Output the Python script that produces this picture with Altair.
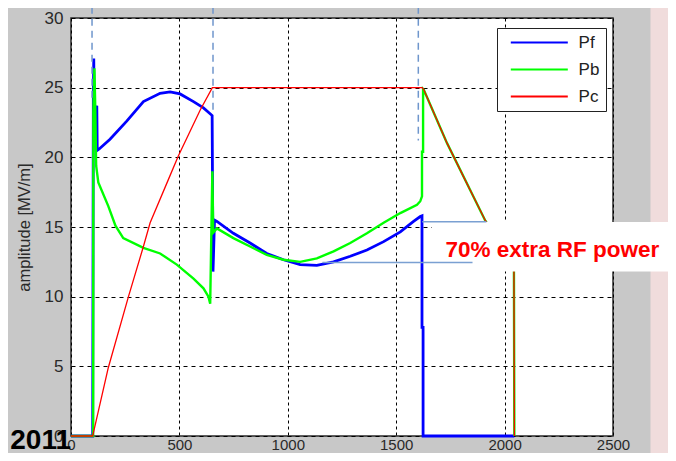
import altair as alt
import pandas as pd

# ---------------- data ----------------
series_names = ["Pf", "Pb", "Pc"]
series_colors = ["#0000ff", "#00ff00", "#ff0000"]

pf_t = [0, 100, 103, 105, 107, 119, 121, 130, 180, 257, 334, 411, 457, 503, 565, 611, 651,
        655, 662, 673, 749, 826, 903, 980, 1057, 1134, 1211, 1288, 1365, 1442, 1519, 1580,
        1611, 1619, 1619, 1624, 1624, 2045]
pf_v = [0, 0, 24.5, 27.1, 23.3, 23.7, 20.5, 20.6, 21.3, 22.6, 24.0, 24.6, 24.7, 24.55, 24.0,
        23.55, 23.0, 11.8, 15.5, 15.4, 14.55, 13.85, 13.1, 12.65, 12.3, 12.25, 12.5, 12.9,
        13.35, 13.95, 14.65, 15.4, 15.75, 15.8, 7.8, 7.8, 0, 0]

pb_t = [0, 102, 103, 108, 112, 116, 126, 172, 205, 241, 334, 411, 488, 565, 611, 634, 642,
        652, 656, 673, 749, 826, 903, 980, 1057, 1134, 1211, 1288, 1365, 1442, 1519, 1596,
        1611, 1619, 1619, 1624, 1624, 1627, 1735, 1811, 1911, 2043, 2045]
pb_v = [0, 0, 23.2, 26.4, 23.5, 19.4, 18.2, 16.5, 15.1, 14.2, 13.5, 13.1, 12.3, 11.3, 10.6,
        10.0, 9.5, 19.0, 14.6, 14.9, 14.2, 13.6, 13.0, 12.65, 12.5, 12.75, 13.25, 13.85,
        14.55, 15.3, 16.0, 16.6, 16.85, 17.2, 20.4, 20.4, 24.9, 24.85, 21.0, 18.6, 15.45,
        12.2, 0]

pc_t = [0, 100, 103, 172, 265, 334, 365, 449, 495, 596, 652, 1620, 1627, 1735, 1811, 1911,
        2043, 2045]
pc_v = [0, 0, 0.2, 4.9, 10.0, 13.6, 15.3, 18.4, 20.1, 23.4, 25.0, 25.0, 24.87, 21.0, 18.6,
        15.47, 12.2, 0]

# annotation guides (dashed verticals, level lines)
guide_x = [97, 655, 1602]
guide_top = [30.8, 30.8, 30.8]
guide_bottom = [24.2, 23.1, 21.2]
level_x = [1620, 1160]
level_x2 = [1916, 1852]
level_y = [15.37, 12.45]

# callout box and texts
box_x = [1665]
box_x2 = [2800]
box_y = [15.36]
box_y2 = [11.8]
note_text = ["70% extra RF power"]
note_x = [1727]
note_y = [12.85]
year_text = ["2011"]
year_x = [-280]
year_y = [-0.93]

# decorative strip at right of figure
strip_x = [2673]
strip_x2 = [2800]
strip_y = [-3]
strip_y2 = [33]

x_ticks = [0, 500, 1000, 1500, 2000, 2500]
y_ticks = [0, 5, 10, 15, 20, 25, 30]

# ---------------- chart ----------------
FONT = "Liberation Sans"

x_scale = alt.Scale(domain=[0, 2500], nice=False, zero=False)
y_scale = alt.Scale(domain=[0, 30], nice=False, zero=False)
color_scale = alt.Scale(domain=series_names, range=series_colors)

x_axis = alt.Axis(values=x_ticks, format="d", title=None, grid=True, gridColor="#000000",
                  gridDash=[3, 3], gridWidth=1, gridOpacity=1, ticks=False, tickSize=0,
                  domain=False, labelFont=FONT, labelFontSize=15, labelColor="#2a2a2a",
                  labelPadding=1, labelFlush=False, labelOverlap=False)
y_axis = alt.Axis(values=y_ticks, format="d", title="amplitude [MV/m]", grid=True,
                  gridColor="#000000", gridDash=[4, 4], gridWidth=1, gridOpacity=1,
                  ticks=False, tickSize=0, domain=False, labelFont=FONT, labelFontSize=17,
                  labelColor="#2a2a2a", labelPadding=8, labelOverlap=False,
                  titleFont=FONT, titleFontSize=16.5, titleFontWeight="normal",
                  titleColor="#2a2a2a", titleAngle=270, titleAlign="center",
                  titleBaseline="middle", titleX=-47, titleY=209)

legend = alt.Legend(title=None, orient="none", legendX=426, legendY=10,
                    direction="vertical", symbolType="M-5,0H5", symbolSize=130,
                    symbolStrokeWidth=2, labelFont=FONT, labelFontSize=17,
                    labelColor="#222222", labelOffset=30.8, rowPadding=9, padding=6,
                    symbolOffset=27.8, strokeColor="#222222", fillColor="white",
                    cornerRadius=0, labelLimit=60)


def series_frame(t, v, name):
    return pd.DataFrame({"t": t, "v": v, "series": name, "i": list(range(len(t)))})


def X(field):
    return alt.X(field, type="quantitative", scale=x_scale, axis=x_axis)


def Y(field):
    return alt.Y(field, type="quantitative", scale=y_scale, axis=y_axis)


strip = alt.Chart(pd.DataFrame({"x": strip_x, "x2": strip_x2, "y": strip_y, "y2": strip_y2})).mark_rect(
    color="#f0dcdc").encode(x=X("x"), x2="x2", y=Y("y"), y2="y2")


def line_layer(t, v, name, width):
    return alt.Chart(series_frame(t, v, name)).mark_line(strokeWidth=width).encode(
        x=X("t"), y=Y("v"),
        color=alt.Color("series:N", scale=color_scale, legend=legend),
        order=alt.Order("i:Q"))


pf_layer = line_layer(pf_t, pf_v, "Pf", 2.8)
pb_layer = line_layer(pb_t, pb_v, "Pb", 2.4)
pc_layer = line_layer(pc_t, pc_v, "Pc", 1.3)

box = alt.Chart(pd.DataFrame({"x": box_x, "x2": box_x2, "y": box_y, "y2": box_y2})).mark_rect(
    color="white").encode(x=X("x"), x2="x2", y=Y("y"), y2="y2")

note = alt.Chart(pd.DataFrame({"label": note_text, "x": note_x, "y": note_y})).mark_text(
    font=FONT, fontSize=22.5, fontWeight="bold", color="#ff0000", align="left",
    baseline="alphabetic").encode(x=X("x"), y=Y("y"), text="label:N")

guides = alt.Chart(pd.DataFrame({"x": guide_x, "y": guide_top, "y2": guide_bottom})).mark_rule(
    color="#6f96cc", strokeWidth=1.5, strokeDash=[7, 5]).encode(x=X("x"), y=Y("y"), y2="y2")

levels = alt.Chart(pd.DataFrame({"x": level_x, "x2": level_x2, "y": level_y})).mark_rule(
    color="#7aa0d2", strokeWidth=1.5).encode(x=X("x"), x2="x2", y=Y("y"))

year = alt.Chart(pd.DataFrame({"label": year_text, "x": year_x, "y": year_y})).mark_text(
    font=FONT, fontSize=28, fontWeight="bold", color="#000000", align="left",
    baseline="alphabetic").encode(x=X("x"), y=Y("y"), text="label:N")

chart = alt.layer(strip, pf_layer, pb_layer, pc_layer, box, note, guides, levels, year).properties(
    width=542, height=418,
    autosize=alt.AutoSizeParams(type="none"),
    padding={"left": 63, "top": 10, "right": 55, "bottom": 17},
    background="#c8c8c8",
).configure_view(fill="white", stroke="#2a2a2a", strokeWidth=1.5)

chart.save("out.html", embed_options={"renderer": "svg", "actions": False})
